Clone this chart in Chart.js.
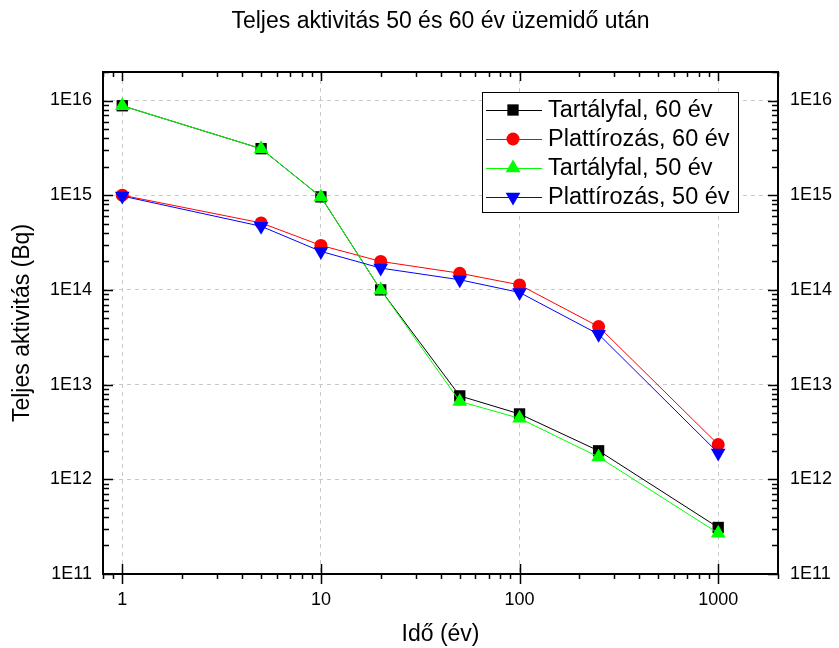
<!DOCTYPE html>
<html>
<head>
<meta charset="utf-8">
<script src="https://cdn.jsdelivr.net/npm/chart.js@4"></script>
<style>
html, body { margin: 0; padding: 0; background: #fff; }
#wrap { width: 839px; height: 648px; }
</style>
</head>
<body>
<div id="wrap"><canvas id="chart" width="839" height="648"></canvas></div>
<script>
// Idő (év) on x, Teljes aktivitás (Bq) on y
const years = [1, 5, 10, 20, 50, 100, 250, 1000];
const tartaly60 = [8.8e15, 3.1e15, 9.6e14, 1.0e14, 7.6e12, 4.9e12, 2.0e12, 3.1e11];
const platt60 = [1.0e15, 5.1e14, 2.95e14, 2.0e14, 1.5e14, 1.13e14, 4.1e13, 2.33e12];
const tartaly50 = [8.8e15, 3.1e15, 9.6e14, 1.0e14, 6.65e12, 4.4e12, 1.72e12, 2.7e11];
const platt50 = [9.8e14, 4.7e14, 2.55e14, 1.7e14, 1.28e14, 9.4e13, 3.4e13, 1.9e12];

const seriesNames = ['Tartályfal, 60 év', 'Plattírozás, 60 év', 'Tartályfal, 50 év', 'Plattírozás, 50 év'];
const xTicks = [1, 10, 100, 1000];
const xTickLabels = ['1', '10', '100', '1000'];
const yTicks = [1e11, 1e12, 1e13, 1e14, 1e15, 1e16];
const yTickLabels = ['1E11', '1E12', '1E13', '1E14', '1E15', '1E16'];
const chartTitle = 'Teljes aktivitás 50 és 60 év üzemidő után';

const FONT = "'Liberation Sans', Arial, Helvetica, sans-serif";
Chart.defaults.font.family = FONT;
Chart.defaults.color = '#000';

function toPoints(vals) {
    return years.map((x, i) => ({ x: x, y: vals[i] }));
}

// minor ticks between decades (2..9 multiples)
function minorValues(min, max) {
    const out = [];
    for (let d = Math.floor(Math.log10(min)); d <= Math.ceil(Math.log10(max)); d++) {
        for (let m = 1; m <= 9; m++) {
            const v = m * Math.pow(10, d);
            if (v >= min && v <= max) out.push({ v: v, major: m === 1 });
        }
    }
    return out;
}

// frame + tick marks + title centred over the plot
const framePlugin = {
    id: 'frame',
    afterDraw(chart) {
        const ctx = chart.ctx;
        const a = chart.chartArea;
        const xs = chart.scales.x, ys = chart.scales.y;
        ctx.save();
        ctx.strokeStyle = '#000';
        ctx.lineWidth = 1.5;
        ctx.beginPath();
        minorValues(xs.min, xs.max).forEach(t => {
            const px = Math.round(xs.getPixelForValue(t.v)) + 0.5;
            const len = t.major ? 9 : 5;
            ctx.moveTo(px, a.top); ctx.lineTo(px, a.top + len);
            if (t.major) {
                ctx.moveTo(px, a.bottom - 10); ctx.lineTo(px, a.bottom + 10);
            } else {
                ctx.moveTo(px, a.bottom); ctx.lineTo(px, a.bottom + 5);
            }
        });
        minorValues(ys.min, ys.max).forEach(t => {
            const py = Math.round(ys.getPixelForValue(t.v)) + 0.5;
            const len = t.major ? 10 : 6;
            ctx.moveTo(a.left, py); ctx.lineTo(a.left + len, py);
            ctx.moveTo(a.right, py); ctx.lineTo(a.right - len, py);
        });
        ctx.stroke();
        ctx.lineWidth = 2;
        ctx.strokeRect(a.left, a.top, a.right - a.left, a.bottom - a.top);

        ctx.fillStyle = '#000';
        ctx.font = '23px ' + FONT;
        ctx.textAlign = 'center';
        ctx.textBaseline = 'middle';
        ctx.fillText(chartTitle, (a.left + a.right) / 2, 22);
        ctx.restore();
    }
};

function drawMarker(ctx, style, x, y, r, color, rot) {
    ctx.fillStyle = color;
    ctx.beginPath();
    if (style === 'rect') {
        const s = Math.SQRT1_2 * r;
        ctx.rect(x - s, y - s, 2 * s, 2 * s);
    } else if (style === 'circle') {
        ctx.arc(x, y, r, 0, Math.PI * 2);
    } else {
        let ang = rot ? Math.PI : 0;
        for (let k = 0; k < 3; k++) {
            const px = x + Math.sin(ang) * r, py = y - Math.cos(ang) * r;
            if (k === 0) ctx.moveTo(px, py); else ctx.lineTo(px, py);
            ang += Math.PI * 2 / 3;
        }
        ctx.closePath();
    }
    ctx.fill();
}

const legendPlugin = {
    id: 'boxLegend',
    afterDraw(chart) {
        const ctx = chart.ctx;
        const a = chart.chartArea;
        const left = a.right - 296, top = a.top + 20, w = 256, h = 120;
        ctx.save();
        ctx.fillStyle = '#fff';
        ctx.fillRect(left, top, w, h);
        ctx.strokeStyle = '#000';
        ctx.lineWidth = 1;
        ctx.strokeRect(left + 0.5, top + 0.5, w, h);
        ctx.font = '23.5px ' + FONT;
        ctx.textBaseline = 'middle';
        chart.data.datasets.forEach((ds, i) => {
            const cy = top + 18 + i * 29;
            ctx.strokeStyle = ds.borderColor;
            ctx.lineWidth = 1;
            ctx.beginPath();
            ctx.moveTo(left + 4, cy + 0.5); ctx.lineTo(left + 60, cy + 0.5);
            ctx.stroke();
            drawMarker(ctx, ds.pointStyle, left + 31, cy, ds.pointRadius, ds.pointBackgroundColor, ds.pointRotation === 180);
            ctx.fillStyle = '#000';
            ctx.fillText(seriesNames[i], left + 66, cy + 1);
        });
        ctx.restore();
    }
};

const logTicks = (vals) => (scale) => { scale.ticks = vals.map(v => ({ value: v })); };

new Chart(document.getElementById('chart'), {
    type: 'line',
    data: {
        datasets: [
            { label: seriesNames[0], data: toPoints(tartaly60), borderColor: '#000000', pointBackgroundColor: '#000000', pointBorderColor: '#000000', pointStyle: 'rect', pointRadius: 8, order: 4 },
            { label: seriesNames[1], data: toPoints(platt60), borderColor: '#ff0000', pointBackgroundColor: '#ff0000', pointBorderColor: '#ff0000', pointStyle: 'circle', pointRadius: 6.5, order: 3 },
            { label: seriesNames[2], data: toPoints(tartaly50), borderColor: '#00ff00', pointBackgroundColor: '#00ff00', pointBorderColor: '#00ff00', pointStyle: 'triangle', pointRadius: 8.5, order: 2 },
            { label: seriesNames[3], data: toPoints(platt50), borderColor: '#0000ff', pointBackgroundColor: '#0000ff', pointBorderColor: '#0000ff', pointStyle: 'triangle', pointRotation: 180, pointRadius: 8.5, order: 1 }
        ].map(d => Object.assign({ borderWidth: 1, pointBorderWidth: 0, tension: 0, fill: false }, d))
    },
    options: {
        responsive: false,
        animation: false,
        events: [],
        layout: { padding: { top: 72, left: 0, right: 0, bottom: 0 } },
        plugins: {
            legend: { display: false },
            tooltip: { enabled: false },
            title: { display: false }
        },
        scales: {
            x: {
                type: 'logarithmic',
                min: 0.8,
                max: 2000,
                afterBuildTicks: logTicks(xTicks),
                afterFit: s => { s.height = 74; },
                ticks: {
                    autoSkip: false, maxRotation: 0, padding: 15,
                    font: { size: 18 },
                    callback: (v, i) => xTickLabels[i]
                },
                grid: { color: '#c8c8c8', drawTicks: false },
                border: { display: false, dash: [4, 4] },
                title: { display: true, text: 'Idő (év)', font: { size: 23 }, padding: { top: 0, bottom: 0 } }
            },
            y: {
                type: 'logarithmic',
                position: 'left',
                min: 1e11,
                max: 2e16,
                afterBuildTicks: logTicks(yTicks),
                afterFit: s => { s.width = 103; },
                ticks: {
                    autoSkip: false, padding: 11,
                    font: { size: 18 },
                    callback: (v, i) => yTickLabels[i]
                },
                grid: { color: '#c8c8c8', drawTicks: false },
                border: { display: false, dash: [4, 4] },
                title: { display: true, text: 'Teljes aktivitás (Bq)', font: { size: 23 }, padding: { top: 9, bottom: 9 } }
            },
            y2: {
                type: 'logarithmic',
                position: 'right',
                min: 1e11,
                max: 2e16,
                afterBuildTicks: logTicks(yTicks),
                afterFit: s => { s.width = 61; },
                ticks: {
                    autoSkip: false, padding: 12,
                    font: { size: 18 },
                    callback: (v, i) => yTickLabels[i]
                },
                grid: { display: false, drawTicks: false },
                border: { display: false }
            }
        }
    },
    plugins: [framePlugin, legendPlugin]
});
</script>
</body>
</html>
